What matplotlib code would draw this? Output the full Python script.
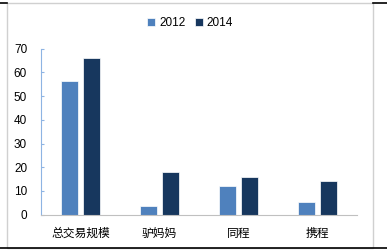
import matplotlib
matplotlib.use("Agg")
import matplotlib.pyplot as plt
import numpy as np
from matplotlib.patches import Rectangle
from matplotlib.lines import Line2D

categories = ["总交易规模", "驴妈妈", "同程", "携程"]
series_names = ["2012", "2014"]
values_2012 = [56.4, 3.8, 12.2, 5.2]
values_2014 = [66.1, 18.0, 15.8, 14.1]
colors = ["#4F81BD", "#17375E"]

plt.rcParams["font.family"] = ["Liberation Sans", "DejaVu Sans"]

W, H = 387, 252
fig = plt.figure(figsize=(W / 100, H / 100), dpi=100)

# outer frame
fig.add_artist(Rectangle((7 / W, 1 - 248 / H), 366 / W, 245 / H,
                         transform=fig.transFigure, fill=False,
                         edgecolor="#D0D0D0", linewidth=1))
fig.add_artist(Line2D([0, 1], [1 - 248 / H] * 2, transform=fig.transFigure,
                      color="black", linewidth=1.2))
fig.add_artist(Line2D([0, 7 / W], [1 - 3 / H] * 2, transform=fig.transFigure,
                      color="black", linewidth=1.2))
fig.add_artist(Line2D([373 / W, 1], [1 - 3 / H] * 2, transform=fig.transFigure,
                      color="black", linewidth=1.2))

ax = fig.add_axes([41 / W, 1 - 214.7 / H, 316 / W, 166 / H])

x = np.arange(len(categories))
width = 0.22
ax.bar(x - 0.14, values_2012, width, color=colors[0], label=series_names[0],
       edgecolor="white", linewidth=0.5)
ax.bar(x + 0.14, values_2014, width, color=colors[1], label=series_names[1],
       edgecolor="white", linewidth=0.5)

ax.set_xlim(-0.5, len(categories) - 0.5)
ax.set_ylim(0, 70)
ax.set_yticks(range(0, 71, 10))
ax.set_xticks(x)
ax.set_xticklabels(categories, family=["Noto Sans CJK SC", "DejaVu Sans"],
                   fontsize=8.5)
ax.tick_params(axis="y", direction="in", length=2.5, color="#8EB4E3",
               labelsize=8.5, pad=10)
ax.tick_params(axis="x", length=0, pad=9)

for side in ["top", "right"]:
    ax.spines[side].set_visible(False)
ax.spines["left"].set_color("#8EB4E3")
ax.spines["bottom"].set_color("#C0C0C0")

fig.legend(loc="center", bbox_to_anchor=(190 / W, 1 - 23 / H), ncol=2,
           frameon=False, fontsize=8.5, handlelength=0.7, handleheight=0.7,
           handletextpad=0.3, columnspacing=0.8)

fig.savefig("out.png", dpi=100)
